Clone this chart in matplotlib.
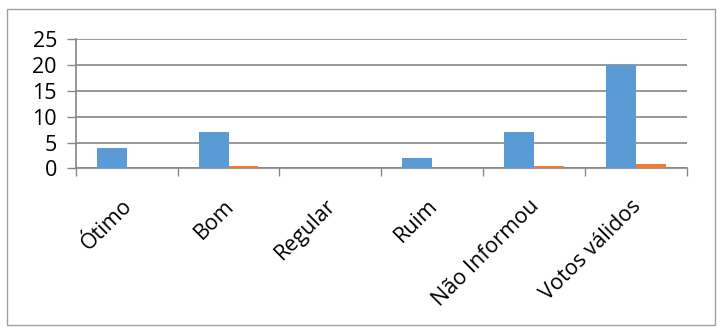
import numpy as np
import matplotlib.pyplot as plt
from matplotlib.patches import Rectangle

plt.rcParams['font.family'] = ['Open Sans', 'DejaVu Sans']

categorias = ['Ótimo', 'Bom', 'Regular', 'Ruim', 'Não Informou', 'Votos válidos']
serie1 = [4, 7, 0, 2, 7, 20]
serie2 = [0, 0.45, 0, 0, 0.45, 0.95]

azul = '#5B9BD5'
laranja = '#ED7D31'
cinza = '#868686'

fig = plt.figure(figsize=(7.17, 3.31), dpi=100)
ax = fig.add_axes([0.1056, 0.491, 0.8524, 0.39])

x = np.arange(len(categorias))
w = 0.294
ax.bar(x - w / 2, serie1, w, color=azul, zorder=3)
ax.bar(x + w / 2, serie2, w, color=laranja, zorder=3)

ax.set_xlim(-0.5, len(categorias) - 0.5)
ax.set_ylim(0, 25)
ax.set_yticks(range(0, 26, 5))
ax.yaxis.grid(True, color=cinza, lw=1.2, zorder=0)

# ticks nas divisas das categorias
ax.set_xticks(np.arange(-0.5, len(categorias), 1))
ax.set_xticklabels([])
ax.tick_params(axis='x', length=6, color=cinza, width=1)
ax.tick_params(axis='y', length=6.5, color=cinza, width=1, labelsize=15.5, pad=7)

for i, c in enumerate(categorias):
    ax.text(i - 0.05, -5.2, c, rotation=45, ha='right', va='top',
            rotation_mode='anchor', fontsize=15.5)

for s in ['top', 'right']:
    ax.spines[s].set_visible(False)
ax.spines['left'].set_color(cinza)
ax.spines['bottom'].set_color(cinza)
ax.spines['left'].set_linewidth(1.2)
ax.spines['bottom'].set_linewidth(1.2)

fig.patches.append(Rectangle((7 / 717, 6 / 331), 708 / 717, 316 / 331,
                             transform=fig.transFigure, fill=False,
                             edgecolor='#a0a0a0', lw=1))

fig.savefig('out.png', dpi=100)
